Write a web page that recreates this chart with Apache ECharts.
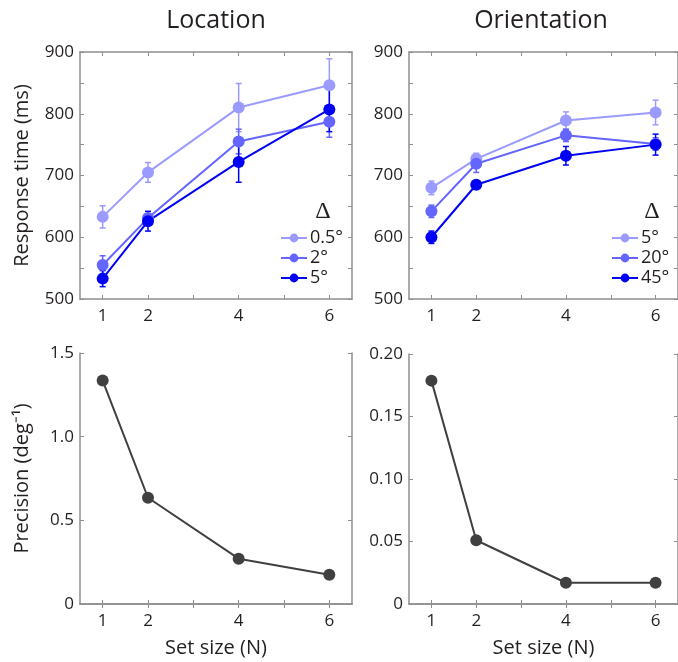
<!DOCTYPE html>
<html><head><meta charset="utf-8">
<script src="https://cdn.jsdelivr.net/npm/echarts@6/dist/echarts.min.js"></script>
<style>html,body{margin:0;padding:0;background:#fff}#c{width:678px;height:662px}</style>
</head><body><div id="c"></div>
<script>
// ---- data ----
const setSizes = [1, 2, 4, 6];
const xTickValues = [1, 2, 3, 4, 5, 6];
const xLabelValues = [1, 2, 4, 6];

const locLabels = ['0.5°', '2°', '5°'];
const locRT_05 = [633, 705, 810, 846];
const locErr_05 = [18, 16, 39, 43];
const locRT_2 = [555, 631, 755, 787];
const locErr_2 = [15, 6, 20, 25];
const locRT_5 = [533, 626, 722, 807];
const locErr_5 = [13, 16, 33, 36];

const oriLabels = ['5°', '20°', '45°'];
const oriRT_5 = [680, 727, 789, 802];
const oriErr_5 = [11, 9, 14, 20];
const oriRT_20 = [642, 719, 765, 751];
const oriErr_20 = [10, 14, 10, 10];
const oriRT_45 = [600, 685, 732, 750];
const oriErr_45 = [10, 6, 15, 17];

const precLoc = [1.335, 0.635, 0.271, 0.175];
const precOri = [0.1787, 0.051, 0.017, 0.017];

const titles = ['Location', 'Orientation'];
const rtName = 'Response time (ms)';
const precName = 'Precision (deg⁻¹)';
const xName = 'Set size (N)';

// ---- styles ----
const FONT = 'Open Sans';
const TXT = '#231f20';
const AX = '#8f8f8f';
const C = ['#9b9bff', '#6464ff', '#0000f5'];
const GRAY = '#404040';

const grids = [
  {left: 80, top: 52, width: 272, height: 247},
  {left: 409, top: 52, width: 273, height: 247},
  {left: 80, top: 353, width: 272, height: 251},
  {left: 409, top: 354, width: 273, height: 250}
];

const yCfg = [
  {min: 500, max: 900, interval: 50, fmt: v => (v % 100 === 0 ? String(v) : ''), name: rtName},
  {min: 500, max: 900, interval: 50, fmt: v => (v % 100 === 0 ? String(v) : ''), name: ''},
  {min: 0, max: 1.5, interval: 0.5, fmt: v => (v === 0 ? '0' : v.toFixed(1)), name: precName},
  {min: 0, max: 0.2, interval: 0.05, fmt: v => (v === 0 ? '0' : v.toFixed(2)), name: ''}
];

const xAxes = [], yAxes = [];
grids.forEach((g, i) => {
  const bottomRow = i >= 2;
  xAxes.push({
    type: 'value', gridIndex: i, position: 'bottom', min: 0.5, max: 6.5,
    axisLine: {show: true, lineStyle: {color: AX, width: 1.5}},
    axisTick: {show: true, inside: true, length: 4, customValues: xTickValues, lineStyle: {color: AX}},
    axisLabel: {show: true, customValues: xLabelValues, color: TXT, fontSize: 17, fontFamily: FONT, margin: 9},
    splitLine: {show: false},
    name: bottomRow ? xName : '', nameLocation: 'middle', nameGap: 34,
    nameTextStyle: {color: TXT, fontSize: 20, fontFamily: FONT}
  });
  xAxes.push({
    type: 'value', gridIndex: i, position: 'top', min: 0.5, max: 6.5,
    axisLine: {show: true, lineStyle: {color: AX, width: 1.5}},
    axisTick: {show: true, inside: true, length: 4, customValues: xTickValues, lineStyle: {color: AX}},
    axisLabel: {show: false}, splitLine: {show: false}
  });
  const yc = yCfg[i];
  yAxes.push({
    type: 'value', gridIndex: i, position: 'left', min: yc.min, max: yc.max, interval: yc.interval,
    axisLine: {show: true, lineStyle: {color: AX, width: 1.5}},
    axisTick: {show: true, inside: true, length: 4, lineStyle: {color: AX}},
    axisLabel: {color: TXT, fontSize: 17, fontFamily: FONT, margin: 6, formatter: yc.fmt},
    splitLine: {show: false},
    name: yc.name, nameLocation: 'middle', nameGap: 48,
    nameTextStyle: {color: TXT, fontSize: 20, fontFamily: FONT}
  });
  yAxes.push({
    type: 'value', gridIndex: i, position: 'right', min: yc.min, max: yc.max, interval: yc.interval,
    axisLine: {show: true, lineStyle: {color: AX, width: 1.5}},
    axisTick: {show: true, inside: true, length: 4, lineStyle: {color: AX}},
    axisLabel: {show: false}, splitLine: {show: false}
  });
});

function errSeries(grid, vals, errs, color) {
  return {
    type: 'custom', xAxisIndex: grid * 2, yAxisIndex: grid * 2, z: 2, silent: true,
    data: setSizes.map((x, k) => [x, vals[k] - errs[k], vals[k] + errs[k]]),
    renderItem: function (params, api) {
      const x = api.value(0);
      const a = api.coord([x, api.value(1)]);
      const b = api.coord([x, api.value(2)]);
      const w = 3;
      const st = {stroke: color, lineWidth: 1.5};
      return {type: 'group', children: [
        {type: 'line', shape: {x1: a[0], y1: a[1], x2: b[0], y2: b[1]}, style: st},
        {type: 'line', shape: {x1: a[0] - w, y1: a[1], x2: a[0] + w, y2: a[1]}, style: st},
        {type: 'line', shape: {x1: b[0] - w, y1: b[1], x2: b[0] + w, y2: b[1]}, style: st}
      ]};
    }
  };
}
function lineSeries(name, grid, vals, color, size) {
  return {
    name: name, type: 'line', xAxisIndex: grid * 2, yAxisIndex: grid * 2, z: 3,
    data: setSizes.map((x, k) => [x, vals[k]]),
    symbol: 'circle', symbolSize: size, showSymbol: true,
    lineStyle: {color: color, width: 2}, itemStyle: {color: color},
    emphasis: {disabled: true}, animation: false
  };
}

const series = [
  errSeries(0, locRT_05, locErr_05, C[0]), lineSeries('L0', 0, locRT_05, C[0], 12),
  errSeries(0, locRT_2, locErr_2, C[1]), lineSeries('L1', 0, locRT_2, C[1], 12),
  errSeries(0, locRT_5, locErr_5, C[2]), lineSeries('L2', 0, locRT_5, C[2], 12),
  errSeries(1, oriRT_5, oriErr_5, C[0]), lineSeries('O0', 1, oriRT_5, C[0], 12),
  errSeries(1, oriRT_20, oriErr_20, C[1]), lineSeries('O1', 1, oriRT_20, C[1], 12),
  errSeries(1, oriRT_45, oriErr_45, C[2]), lineSeries('O2', 1, oriRT_45, C[2], 12),
  lineSeries('P0', 2, precLoc, GRAY, 12),
  lineSeries('P1', 3, precOri, GRAY, 12)
];

const legendText = {L0: locLabels[0], L1: locLabels[1], L2: locLabels[2],
                    O0: oriLabels[0], O1: oriLabels[1], O2: oriLabels[2]};
function mkLegend(names, left) {
  return {
    data: names, orient: 'vertical', left: left, top: 229, padding: 0,
    itemWidth: 26, itemHeight: 11, itemGap: 2, selectedMode: false,
    formatter: n => legendText[n],
    textStyle: {color: TXT, fontSize: 18, fontFamily: FONT, lineHeight: 18, padding: [0, 0, 0, -2]}
  };
}

const option = {
  animation: false,
  backgroundColor: '#fff',
  grid: grids,
  xAxis: xAxes,
  yAxis: yAxes,
  legend: [mkLegend(['L0', 'L1', 'L2'], 280), mkLegend(['O0', 'O1', 'O2'], 611)],
  graphic: [
    {type: 'text', x: 216, y: 21, style: {text: titles[0], align: 'center', verticalAlign: 'middle', fill: TXT, font: '25px "Open Sans"'}},
    {type: 'text', x: 541, y: 21, style: {text: titles[1], align: 'center', verticalAlign: 'middle', fill: TXT, font: '25px "Open Sans"'}},
    {type: 'text', x: 323, y: 212, style: {text: 'Δ', align: 'center', verticalAlign: 'middle', fill: TXT, font: '24px "Liberation Serif"'}},
    {type: 'text', x: 652, y: 212, style: {text: 'Δ', align: 'center', verticalAlign: 'middle', fill: TXT, font: '24px "Liberation Serif"'}}
  ],
  series: series
};

const chart = echarts.init(document.getElementById('c'), null, {renderer: 'canvas'});
chart.setOption(option);
</script>
</body></html>
